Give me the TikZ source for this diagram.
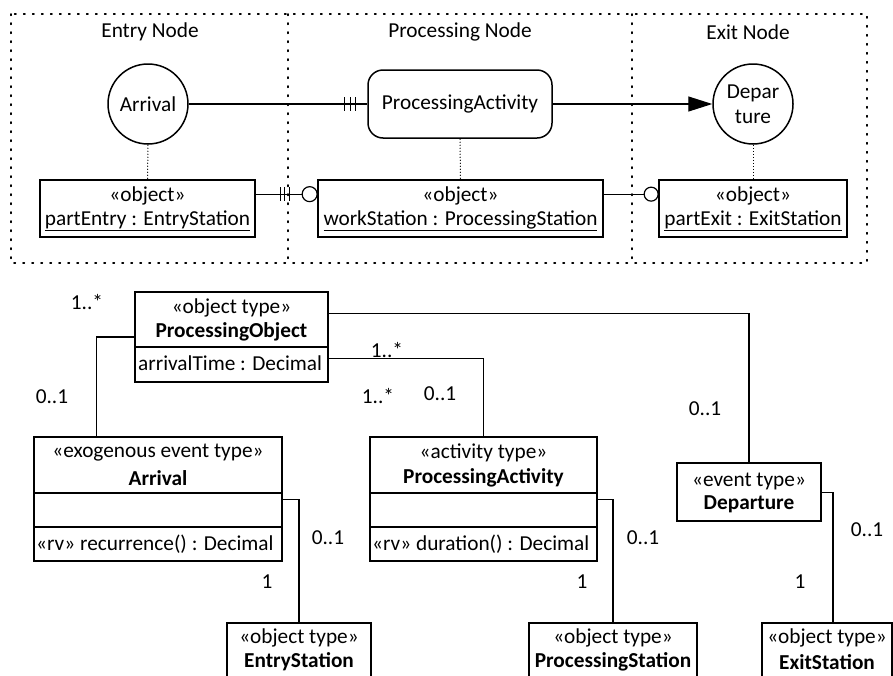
\documentclass[tikz,border=0pt]{standalone}
\usepackage{fontspec}
\setmainfont{Carlito}
\usetikzlibrary{arrows.meta,calc}

\begin{document}
\begin{tikzpicture}[x=1pt,y=-1pt,
  every node/.style={font=\fontsize{21.3}{24}\selectfont, inner sep=0pt},
  frame/.style={line width=1.6pt, dash pattern=on 1.4pt off 7.6pt, line cap=round},
  tie/.style={line width=1pt, dash pattern=on 1pt off 2pt},
  conn/.style={line width=1.2pt},
  evt/.style={draw, circle, line width=1.5pt, minimum size=80pt, align=center},
  actv/.style={draw, rounded corners=15pt, line width=1.5pt, minimum width=184pt, minimum height=68pt},
  objbox/.style={draw, line width=1.7pt, minimum height=57pt, align=center},
  classbox/.style={draw, line width=1.7pt},
  bar/.style={line width=1.2pt},
  mult/.style={}
]
\useasboundingbox (0,0) rectangle (893,675);

% ---------- deployment frame ----------
\draw[frame] (11,14) rectangle (867,263);
\draw[frame] (288,14) -- (288,263);
\draw[frame] (632,14) -- (632,263);
\node (hEntry) at (150,32) {Entry Node};
\node (hProc)  at (460,32) {Processing Node};
\node (hExit)  at (748,32) {Exit Node};

% events and activity
\node[evt]  (arr) at (148,104) {Arrival};
\node[actv] (act) at (460,104) {ProcessingActivity};
\node[evt, font=\fontsize{21.3}{25}\selectfont]  (dep) at (753,104) {Depar\\ture};

% objects
\node[objbox, minimum width=215pt] (pe) at (147.5,208.5) {«object»\\\underline{partEntry : EntryStation}};
\node[objbox, minimum width=285pt] (ws) at (460.5,208.5) {«object»\\\underline{workStation : ProcessingStation}};
\node[objbox, minimum width=188pt] (px) at (753,208.5) {«object»\\\underline{partExit : ExitStation}};

\draw[tie] (arr.south) -- (pe.north);
\draw[tie] (act.south) -- (ws.north);
\draw[tie] (dep.south) -- (px.north);

% Arrival -- ProcessingActivity with "one and only one" marks
\draw[conn] (arr.east) -- (act.west);
\foreach \d in {23,17,12}
  \draw[bar] ($(act.west)+(-\d,-7)$) -- ($(act.west)+(-\d,7)$);

% ProcessingActivity -> Departure
\draw[conn, -{Triangle[length=24pt,width=15pt]}] (act.east) -- (dep.west);

% partEntry -- workStation
\coordinate (peR) at ($(pe.north east)+(0,15)$);
\coordinate (wsL) at ($(ws.north west)+(0,15)$);
\draw[conn] (peR) -- ($(wsL)+(-15,0)$);
\foreach \d in {37,33,28}
  \draw[bar] ($(wsL)+(-\d,-7)$) -- ($(wsL)+(-\d,7)$);
\draw[conn] ($(wsL)+(-7.5,0)$) circle (7.5pt);

% workStation -- partExit
\coordinate (wsR) at ($(ws.north east)+(0,15)$);
\coordinate (pxL) at ($(px.north west)+(0,15)$);
\draw[conn] (wsR) -- ($(pxL)+(-14,0)$);
\draw[conn] ($(pxL)+(-7,0)$) circle (7pt);

% ---------- class diagram ----------
% ProcessingObject
\node[classbox, minimum width=193pt, minimum height=90pt] (po) at (231.5,337) {};
\draw[classbox] ($(po.north west)+(0,56)$) -- ($(po.north east)+(0,56)$);
\node (poS) at (231.5,308) {«object type»};
\node (poN) at (231.5,332) {\textbf{ProcessingObject}};
\node[anchor=west] (poA) at (138,363) {arrivalTime : Decimal};

% Arrival
\node[classbox, minimum width=248pt, minimum height=124pt] (ca) at (158,499) {};
\draw[classbox] ($(ca.north west)+(0,57)$) -- ($(ca.north east)+(0,57)$);
\draw[classbox] ($(ca.north west)+(0,91)$) -- ($(ca.north east)+(0,91)$);
\node (caS) at (158,453) {«exogenous event type»};
\node (caN) at (158,478) {\textbf{Arrival}};
\node[anchor=west] (caO) at (36,544) {«rv» recurrence() : Decimal};

% ProcessingActivity
\node[classbox, minimum width=227pt, minimum height=124pt] (cp) at (483.5,499) {};
\draw[classbox] ($(cp.north west)+(0,57)$) -- ($(cp.north east)+(0,57)$);
\draw[classbox] ($(cp.north west)+(0,91)$) -- ($(cp.north east)+(0,91)$);
\node (cpS) at (483.5,453) {«activity type»};
\node (cpN) at (483.5,478) {\textbf{ProcessingActivity}};
\node[anchor=west] (cpO) at (372,544) {«rv» duration() : Decimal};

% Departure
\node[classbox, minimum width=144pt, minimum height=58pt] (cd) at (749,492) {};
\node (cdS) at (749,481) {«event type»};
\node (cdN) at (749,504) {\textbf{Departure}};

% stations (running off the lower edge)
\node[classbox, minimum width=144pt, minimum height=64pt] (ce) at (299,655) {};
\node (ceS) at (299,638) {«object type»};
\node (ceN) at (299,662) {\textbf{EntryStation}};
\node[classbox, minimum width=168pt, minimum height=64pt] (cs) at (613,655) {};
\node (csS) at (613,638) {«object type»};
\node (csN) at (613,662) {\textbf{ProcessingStation}};
\node[classbox, minimum width=130pt, minimum height=64pt] (cx) at (827,655) {};
\node (cxS) at (827,638) {«object type»};
\node (cxN) at (827,662) {\textbf{ExitStation}};

% associations
\draw[conn] (po.west) -| ($(ca.north west)+(63,0)$);
\draw[conn] ($(po.north east)+(0,22)$) -| (cd.north);
\draw[conn] ($(po.north east)+(0,67)$) -| (cp.north);
\draw[conn] ($(ca.north east)+(0,63)$) -| (ce.north);
\draw[conn] ($(cp.north east)+(0,63)$) -| (cs.north);
\draw[conn] ($(cd.north east)+(0,30)$) -| ($(cx.north)+(6,0)$);

% multiplicities
\node[mult] (m1) at (87,302) {1..*};
\node[mult] (m2) at (52,397) {0..1};
\node[mult] (m3) at (387,350) {1..*};
\node[mult] (m4) at (378,396) {1..*};
\node[mult] (m5) at (440,394) {0..1};
\node[mult] (m6) at (705,409) {0..1};
\node[mult] (m7) at (328,538) {0..1};
\node[mult] (m8) at (267,582) {1};
\node[mult] (m9) at (643,538) {0..1};
\node[mult] (m10) at (582,582) {1};
\node[mult] (m11) at (867,530) {0..1};
\node[mult] (m12) at (800,582) {1};
\end{tikzpicture}
\end{document}
